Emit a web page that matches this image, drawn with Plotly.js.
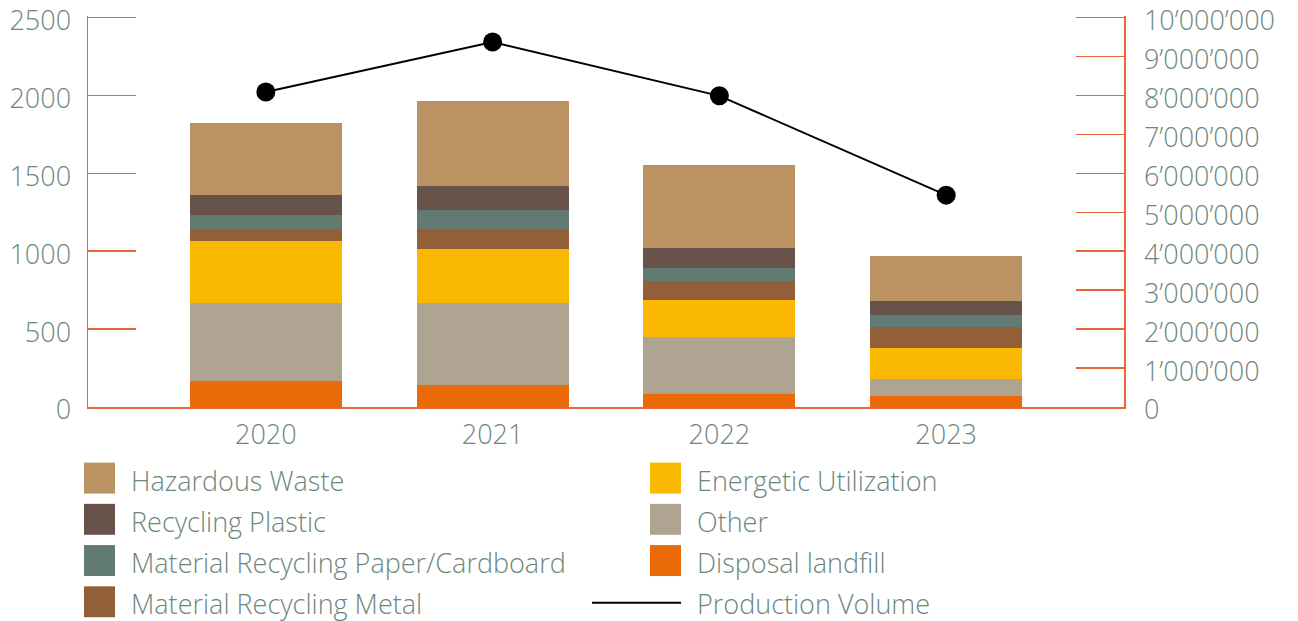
<!DOCTYPE html>
<html><head><meta charset="utf-8">
<script src="https://cdn.plot.ly/plotly-3.0.1.min.js"></script>
<style>html,body{margin:0;padding:0;background:#fff;} #chart{width:1298px;height:621px;}</style>
</head><body><div id="chart"></div>
<script>
// ---- data ----
const years = ['2020', '2021', '2022', '2023'];
const disposalLandfill = [170, 143, 85, 72];
const other = [499, 526, 366, 109];
const energeticUtilization = [397, 346, 237, 199];
const recyclingMetal = [77, 128, 122, 135];
const recyclingPaper = [90, 122, 83, 77];
const recyclingPlastic = [128, 154, 128, 89];
const hazardousWaste = [461, 544, 532, 289];
const productionVolume = [8090000, 9370000, 7990000, 5440000];

const seriesNames = ['Disposal landfill', 'Other', 'Energetic Utilization', 'Material Recycling Metal',
  'Material Recycling Paper/Cardboard', 'Recycling Plastic', 'Hazardous Waste'];
const seriesValues = [disposalLandfill, other, energeticUtilization, recyclingMetal,
  recyclingPaper, recyclingPlastic, hazardousWaste];
const seriesColors = ['#ea6a08', '#afa391', '#fab900', '#935f38', '#617a72', '#67534a', '#bb9261'];
const lineName = 'Production Volume';

// ---- style ----
const axisColor = '#e8643c';
const textColor = '#6d877d';
const fontFamily = '"Open Sans", Lato, sans-serif';
const fontSize = 27;
const tf = {family: fontFamily, size: fontSize, color: textColor, weight: 300};

const traces = seriesNames.map((n, i) => ({
  type: 'bar', name: n, x: years, y: seriesValues[i],
  marker: {color: seriesColors[i], line: {width: 0}}, hoverinfo: 'skip'
}));
traces.push({
  type: 'scatter', mode: 'lines+markers', name: lineName, x: years, y: productionVolume,
  yaxis: 'y2', line: {color: '#000', width: 2}, marker: {color: '#000', size: 19}, hoverinfo: 'skip'
});

// ---- geometry: plot area x 88..1124, y 15.7..407.3 ----
const L = 88, R = 1124, T = 15.7, B = 407.3;
const px = v => (v - L) / (R - L);
const py = v => (B - v) / (B - T);
const shapes = [], annotations = [];
const legendItems = [];
for (let i = seriesNames.length - 1; i >= 0; i--) legendItems.push({name: seriesNames[i], color: seriesColors[i], kind: 'box'});
legendItems.push({name: lineName, color: '#000', kind: 'line'});
legendItems.forEach((it, k) => {
  const col = Math.floor(k / 4), row = k % 4;
  const cy = 478.5 + row * 41.3;
  const sx = col === 0 ? 84 : 650;
  const tx = col === 0 ? 129 : 695;
  if (it.kind === 'box') {
    shapes.push({type: 'rect', xref: 'paper', yref: 'paper', x0: px(sx), x1: px(sx + 31), y0: py(cy - 15.5), y1: py(cy + 15.5),
      fillcolor: it.color, line: {width: 0}});
  } else {
    shapes.push({type: 'line', xref: 'paper', yref: 'paper', x0: px(592), x1: px(681), y0: py(cy + 1), y1: py(cy + 1),
      line: {color: it.color, width: 2}});
  }
  annotations.push({xref: 'paper', yref: 'paper', x: px(tx), y: py(cy + 2), xanchor: 'left', yanchor: 'middle',
    text: it.name, showarrow: false, font: tf});
});

const layout = {
  width: 1298, height: 621,
  margin: {l: 88, r: 174, t: 15.7, b: 213.7, autoexpand: false},
  paper_bgcolor: '#fff', plot_bgcolor: '#fff',
  barmode: 'stack', bargap: 0.33,
  showlegend: false,
  separators: '.\u2019',
  font: tf,
  xaxis: {
    type: 'category', range: [-0.784, 3.784], showline: true, linecolor: axisColor, linewidth: 1.5,
    ticks: '', showgrid: false, zeroline: false, tickfont: tf, ticklabelstandoff: 3,
    fixedrange: true
  },
  yaxis: {
    range: [0, 2510], tick0: 0, dtick: 500, ticks: 'inside', ticklen: 48, tickwidth: 1.5, tickcolor: axisColor,
    showline: true, linecolor: axisColor, linewidth: 1.5, showgrid: false, zeroline: false,
    tickfont: tf, ticklabelstandoff: 10, ticklabelshift: 3, ticklabeloverflow: 'allow', fixedrange: true
  },
  yaxis2: {
    overlaying: 'y', side: 'right', range: [0, 10040000], tick0: 0, dtick: 1000000, tickformat: ',d',
    ticks: 'inside', ticklen: 48, tickwidth: 1.5, tickcolor: axisColor,
    showline: true, linecolor: axisColor, linewidth: 1.5, showgrid: false, zeroline: false,
    tickfont: tf, ticklabelstandoff: 13, ticklabelshift: 3, ticklabeloverflow: 'allow', fixedrange: true
  },
  shapes: shapes,
  annotations: annotations
};

Plotly.newPlot('chart', traces, layout, {displayModeBar: false, staticPlot: true});
</script>
</body></html>
